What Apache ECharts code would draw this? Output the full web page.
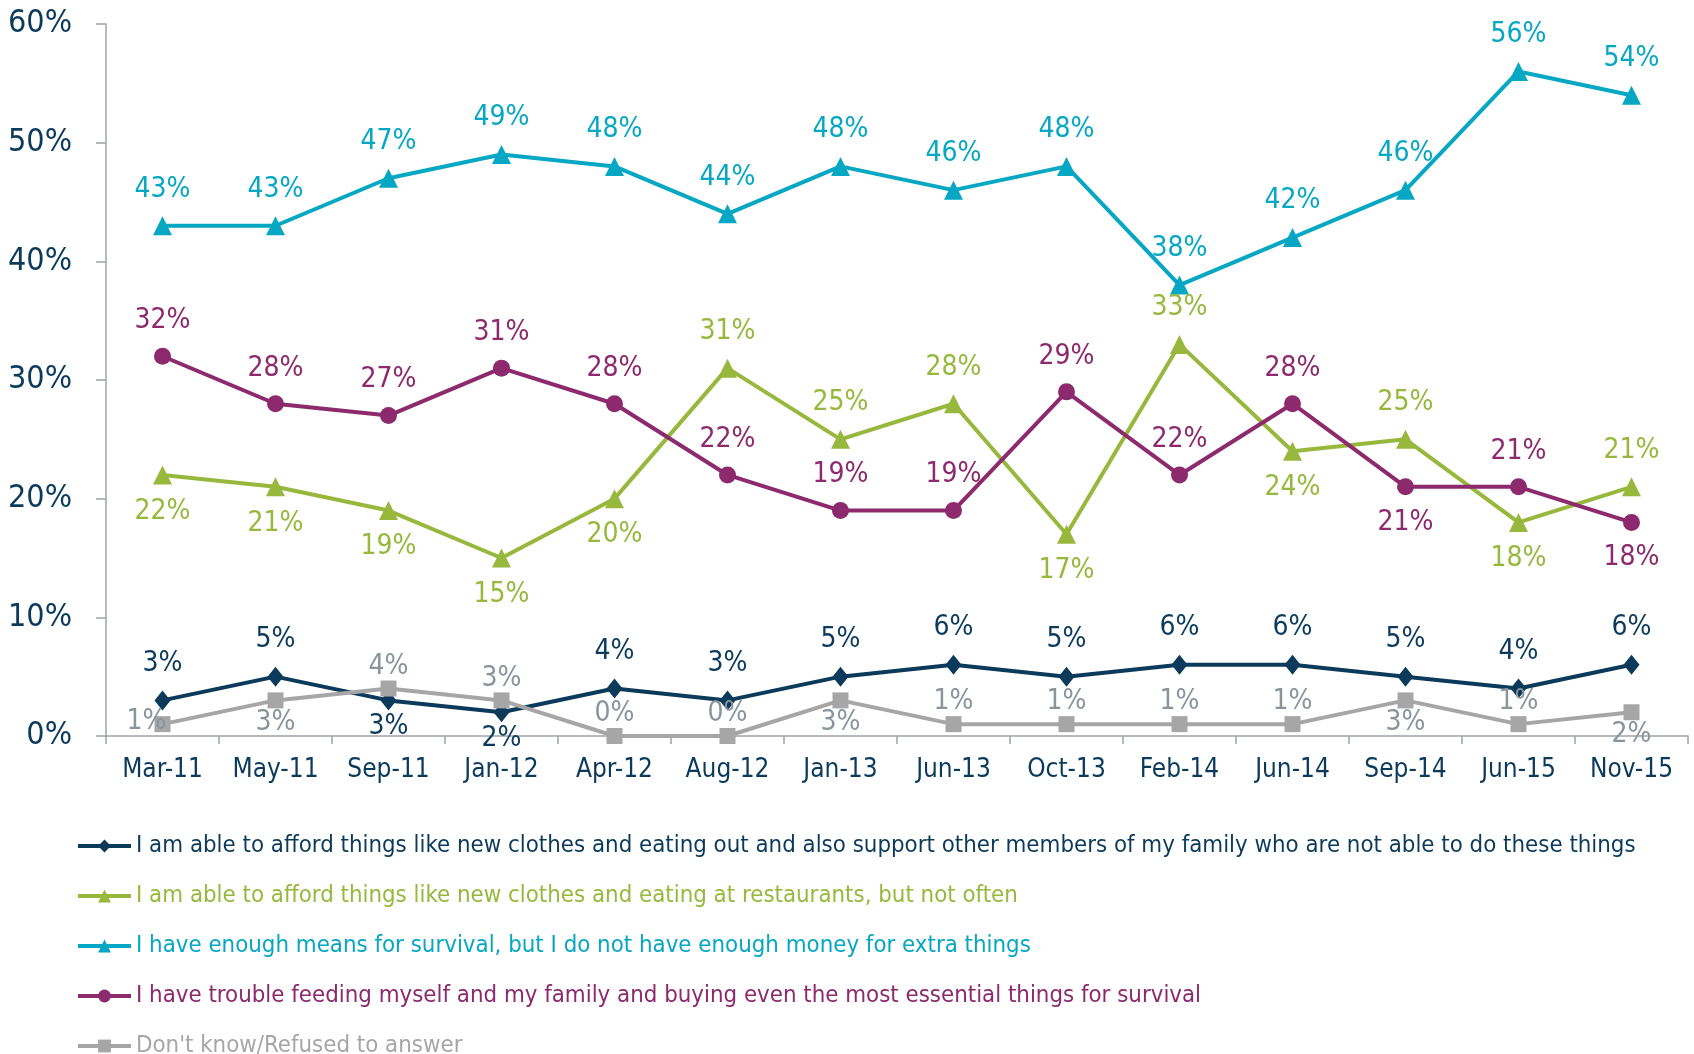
<!DOCTYPE html>
<html>
<head>
<meta charset="utf-8">
<script src="https://cdn.jsdelivr.net/npm/echarts@6/dist/echarts.min.js"></script>
<style>
  html, body { margin: 0; padding: 0; background: #fff; }
  #main { width: 1694px; height: 1054px; }
</style>
</head>
<body>
<div id="main"></div>
<script>
// survey waves
const categories = ['Mar-11', 'May-11', 'Sep-11', 'Jan-12', 'Apr-12', 'Aug-12', 'Jan-13',
  'Jun-13', 'Oct-13', 'Feb-14', 'Jun-14', 'Sep-14', 'Jun-15', 'Nov-15']

const seriesNames = [
  'I am able to afford things like new clothes and eating out and also support other members of my family who are not able to do these things',
  'I am able to afford things like new clothes and eating at restaurants, but not often',
  'I have enough means for survival, but I do not have enough money for extra things',
  'I have trouble feeding myself and my family and buying even the most essential things for survival',
  "Don't know/Refused to answer"
]

// values in %
const supportOthers = [3, 5, 3, 2, 4, 3, 5, 6, 5, 6, 6, 5, 4, 6]
const notOften = [22, 21, 19, 15, 20, 31, 25, 28, 17, 33, 24, 25, 18, 21]
const survival = [43, 43, 47, 49, 48, 44, 48, 46, 48, 38, 42, 46, 56, 54]
const trouble = [32, 28, 27, 31, 28, 22, 19, 19, 29, 22, 28, 21, 21, 18]
const dontKnow = [1, 3, 4, 3, 0, 0, 3, 1, 1, 1, 1, 3, 1, 2]

const yTicks = [0, 10, 20, 30, 40, 50, 60]

// where each data label sits (t = top, b = bottom, l = left)
const supportPos = 'ttbbtttttttttt'
const notOftenPos = 'bbbbbtttbtbtbt'
const survivalPos = 'tttttttttttttt'
const troublePos = 'tttttttttttbtb'
const dontKnowPos = 'lbttttbttttbtb'

const posName = { t: 'top', b: 'bottom', l: 'left' }
const font = "'DejaVu Sans Condensed', 'DejaVu Sans', sans-serif"

const colors = ['#0b3a5b', '#97b83c', '#06a7c3', '#8c2a6d', '#a6a6a6']
const labelColors = ['#0b3a5b', '#97b83c', '#06a7c3', '#8c2a6d', '#8a949b']
const legendColors = ['#0b3a5b', '#97b83c', '#06a7c3', '#8c2a6d', '#a6a6a6']

const makeSeries = (idx, values, pos, symbol, symbolSize, dist, distBelow) => ({
  name: seriesNames[idx],
  type: 'line',
  data: values.map((v, i) => {
    const p = posName[pos[i]]
    const label = { position: p, distance: p === 'bottom' ? distBelow : dist }
    if (p === 'left') {
      label.distance = -12
      label.offset = [0, -2]
    }
    return { value: v, label }
  }),
  symbol,
  symbolSize,
  showAllSymbol: true,
  lineStyle: { color: colors[idx], width: 4 },
  itemStyle: { color: colors[idx] },
  label: {
    show: true,
    formatter: '{c}%',
    color: labelColors[idx],
    fontFamily: font,
    fontSize: 28
  },
  emphasis: { disabled: true },
  animation: false
})

const chart = echarts.init(document.getElementById('main'))

chart.setOption({
  animation: false,
  grid: { left: 106, right: 6, top: 24, bottom: 318, outerBoundsMode: 'none' },
  xAxis: {
    type: 'category',
    data: categories,
    boundaryGap: true,
    axisLine: { lineStyle: { color: '#a0a4a8', width: 1.5 } },
    axisTick: { show: true, length: 8, lineStyle: { color: '#a0a4a8', width: 1.5 } },
    axisLabel: { color: '#0b3a5b', fontFamily: font, fontSize: 26, margin: 21 }
  },
  yAxis: {
    type: 'value',
    min: yTicks[0],
    max: yTicks[yTicks.length - 1],
    interval: yTicks[1] - yTicks[0],
    splitLine: { show: false },
    axisLine: { show: true, lineStyle: { color: '#a0a4a8', width: 1.5 } },
    axisTick: { show: true, length: 10, lineStyle: { color: '#a0a4a8', width: 1.5 } },
    axisLabel: {
      formatter: '{value}%',
      color: '#0b3a5b',
      fontFamily: font,
      fontSize: 32,
      margin: 34
    }
  },
  legend: {
    orient: 'vertical',
    left: 76,
    top: 831,
    height: 400,
    padding: 0,
    itemWidth: 53,
    itemHeight: 16,
    itemGap: 20,
    selectedMode: false,
    lineStyle: { width: 4 },
    textStyle: { fontFamily: font, fontSize: 23.8, lineHeight: 30 },
    data: seriesNames.map((n, i) => ({ name: n, textStyle: { color: legendColors[i] } }))
  },
  series: [
    makeSeries(0, supportOthers, supportPos, 'diamond', [16, 20], 13, 2),
    makeSeries(1, notOften, notOftenPos, 'triangle', 19, 13, 13),
    makeSeries(2, survival, survivalPos, 'triangle', 19, 13, 13),
    makeSeries(3, trouble, troublePos, 'circle', 17, 13, 13),
    makeSeries(4, dontKnow, dontKnowPos, 'rect', 16, 0, 0)
  ]
})
</script>
</body>
</html>
